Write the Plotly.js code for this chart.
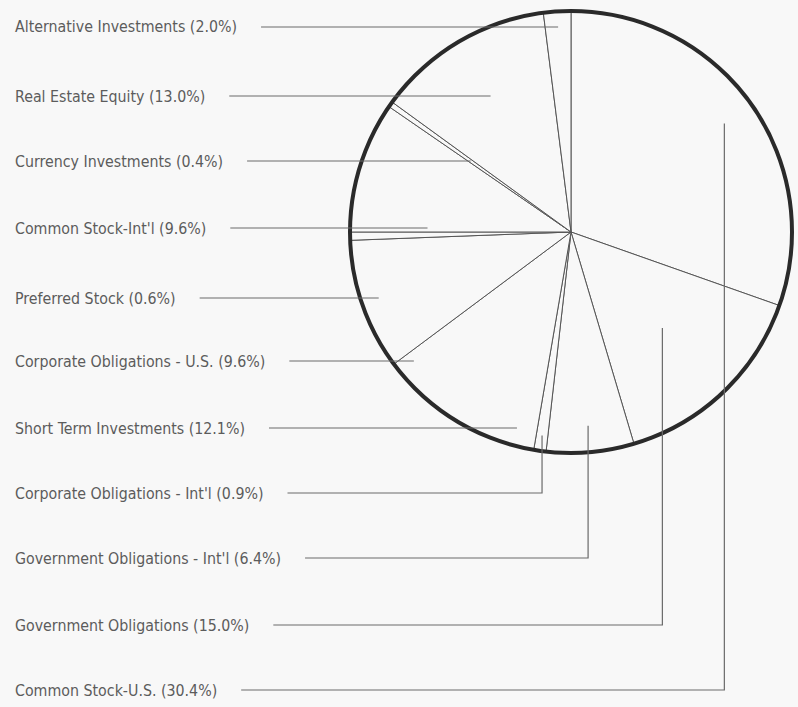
<!DOCTYPE html>
<html><head><meta charset="utf-8">
<script src="https://cdn.plot.ly/plotly-3.0.1.min.js"></script>
<style>html,body{margin:0;padding:0;background:#f8f8f8}</style>
</head><body><div id="chart" style="width:798px;height:707px"></div>
<script>
// ---- data (clockwise from 12 o'clock) ----
const categories = ["Common Stock-U.S.", "Government Obligations", "Government Obligations - Int'l",
  "Corporate Obligations - Int'l", "Short Term Investments", "Corporate Obligations - U.S.",
  "Preferred Stock", "Common Stock-Int'l", "Currency Investments", "Real Estate Equity",
  "Alternative Investments"];
const shares = [30.4, 15.0, 6.4, 0.9, 12.1, 9.6, 0.6, 9.6, 0.4, 13.0, 2.0];

// ---- layout / style ----
const W = 798, H = 707;
const CX = 571, CY = 232, R = 221;
const FONT = '"DejaVu Sans Condensed", "Liberation Sans Narrow", Arial, sans-serif';
const FSIZE = 15.8;
const labelRows = [27, 96, 161, 228, 298, 361, 428, 493, 558, 625, 690]; // label centre lines, top to bottom
const labelLeft = 13;
const bottomReach = [0.85, 0.6, 0.88, 0.93]; // anchor depth for labels routed below the pie
const BG = '#f8f8f8', LEADER = '#6a6a6a';

const px = x => x / W, py = y => 1 - y / H;
const domain = {x: [px(CX - R), px(CX + R)], y: [py(CY + R), py(CY - R)]};

const total = shares.reduce((a, b) => a + b, 0);
let acc = 0;
const mids = shares.map(v => { const m = (acc + v / 2) / total * 360; acc += v; return m; });

const canvas = document.createElement('canvas');
const ctx = canvas.getContext('2d');
ctx.font = FSIZE + 'px ' + FONT;

const annotations = [], shapes = [];
const order = categories.map((_, i) => i).reverse(); // labels top-to-bottom
order.forEach((si, row) => {
  const y = labelRows[row];
  const text = categories[si] + ' (' + shares[si].toFixed(1) + '%)';
  annotations.push({x: px(labelLeft), y: py(y), xref: 'paper', yref: 'paper', xanchor: 'left', yanchor: 'middle',
    showarrow: false, text: text, font: {family: FONT, size: FSIZE, color: '#5c5c5c'}});
  const x0 = labelLeft + ctx.measureText(text).width + 26;
  const th = mids[si] * Math.PI / 180, s = Math.sin(th), c = -Math.cos(th);
  let path;
  if (mids[si] < 195) {
    const k = bottomReach[si] * R;
    const ax = CX + s * k, ay = CY + c * k;
    path = `M${px(x0)},${py(y)} L${px(ax)},${py(y)} L${px(ax)},${py(ay)}`;
  } else {
    let t = (c !== 0) ? (y - CY) / c : Infinity;
    let xe;
    if (t < 0.3 * R) xe = CX + s * 0.68 * R;
    else if (t > 0.95 * R || !isFinite(t)) { const rr = 0.92 * R; xe = CX - Math.sqrt(Math.max(rr * rr - (y - CY) * (y - CY), 0)); }
    else xe = CX + s * t;
    path = `M${px(x0)},${py(y)} L${px(xe)},${py(y)}`;
  }
  shapes.push({type: 'path', xref: 'paper', yref: 'paper', path: path, line: {color: LEADER, width: 1.2}});
});

const slices = {
  type: 'pie', values: shares, labels: categories, sort: false, direction: 'clockwise', rotation: 0,
  domain: domain, textinfo: 'none', hoverinfo: 'label+percent',
  marker: {colors: shares.map(() => BG), line: {color: '#555', width: 1}}
};
const outline = {
  type: 'pie', values: [1], labels: ['outline'], sort: false, domain: domain, textinfo: 'none', hoverinfo: 'skip',
  marker: {colors: ['rgba(0,0,0,0)'], line: {color: '#2a2a2a', width: 4}}
};

Plotly.newPlot('chart', [slices, outline], {
  width: W, height: H, margin: {l: 0, r: 0, t: 0, b: 0},
  paper_bgcolor: BG, plot_bgcolor: BG, showlegend: false,
  annotations: annotations, shapes: shapes
}, {displayModeBar: false});
</script></body></html>
